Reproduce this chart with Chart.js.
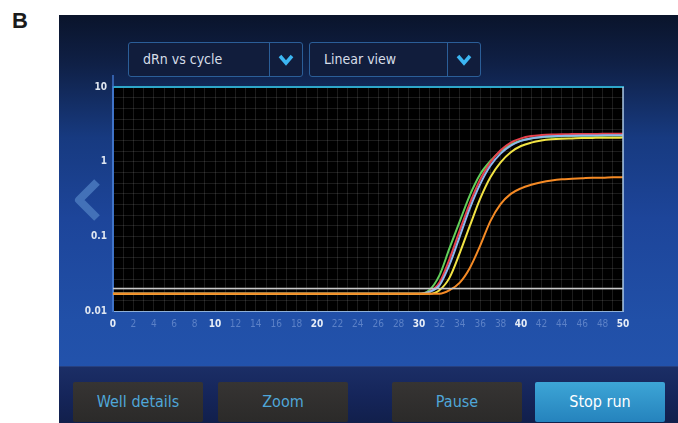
<!DOCTYPE html>
<html>
<head>
<meta charset="utf-8">
<script src="https://cdn.jsdelivr.net/npm/chart.js@4.4.1/dist/chart.umd.min.js"></script>
<style>
  html, body { margin:0; padding:0; width:678px; height:423px; overflow:hidden; background:#fff; }
  body { font-family:'Liberation Sans Narrow','DejaVu Sans Condensed',sans-serif; }
  #lbl { position:absolute; left:12px; top:8px; font:bold 22px 'Liberation Sans',Arial,sans-serif; color:#1b1b1b; }
  #screen { position:absolute; left:59px; top:15px; width:619px; height:408px;
    background:linear-gradient(180deg,#0a142b 0%,#0f2046 12%,#173a80 30%,#1d459a 50%,#2150a8 75%,#2455b0 100%); }
  .dd { position:absolute; top:27px; height:33px; border:1px solid #2b5e98; border-radius:3px;
    background:#111d3c; color:#d6dde8; font-size:14px; line-height:33px; box-sizing:content-box; }
  .dd span { position:absolute; left:14px; }
  .dd .sep { position:absolute; right:32px; top:0; width:1px; height:33px; background:#2b5e98; }
  .dd svg { position:absolute; right:8px; top:11px; }
  #arrow { position:absolute; left:12px; top:163px; }
  #bar { position:absolute; left:0; top:351px; width:619px; height:57px;
    background:linear-gradient(180deg,#1b2e66 0%,#15255a 50%,#111f4b 100%); border-top:1px solid #27407f; }
  .btn { position:absolute; top:15px; width:130px; height:40px; border-radius:2px; text-align:center;
    line-height:40px; font-size:16px; color:#4fa6d8;
    background:linear-gradient(180deg,#363433 0%,#2b2a29 100%); }
  .btn.stop { color:#fff; background:linear-gradient(180deg,#3da5d6 0%,#2583bd 100%); }
  #chart-wrap { position:absolute; left:0; top:0; width:678px; height:423px; pointer-events:none; }
</style>
</head>
<body>
<div id="lbl">B</div>
<div id="screen">
  <div class="dd" style="left:69px;width:173px;"><span>dRn vs cycle</span><div class="sep"></div>
    <svg width="16" height="12" viewBox="0 0 16 12"><polyline points="2,2 8,9 14,2" fill="none" stroke="#3cb6f2" stroke-width="3.5"/></svg></div>
  <div class="dd" style="left:250px;width:170px;"><span>Linear view</span><div class="sep"></div>
    <svg width="16" height="12" viewBox="0 0 16 12"><polyline points="2,2 8,9 14,2" fill="none" stroke="#3cb6f2" stroke-width="3.5"/></svg></div>
  <svg id="arrow" width="34" height="44" viewBox="0 0 34 44"><polyline points="26,4 8,22 26,40" fill="none" stroke="#4371b8" stroke-width="8" stroke-linejoin="round"/></svg>
  <div id="bar">
    <div class="btn" style="left:14px;">Well details</div>
    <div class="btn" style="left:159px;">Zoom</div>
    <div class="btn" style="left:333px;">Pause</div>
    <div class="btn stop" style="left:476px;">Stop run</div>
  </div>
</div>
<div id="chart-wrap"><canvas id="chart" width="678" height="423"></canvas></div>

<script>
// ciclos 0..50
const cycles = [0,1,2,3,4,5,6,7,8,9,10,11,12,13,14,15,16,17,18,19,20,21,22,23,24,25,
  26,27,28,29,30,31,32,33,34,35,36,37,38,39,40,41,42,43,44,45,46,47,48,49,50];

const green  = [0.017,0.017,0.017,0.017,0.017,0.017,0.017,0.017,0.017,0.017,0.017,0.017,0.017,0.017,0.017,0.017,
  0.017,0.017,0.017,0.017,0.017,0.017,0.017,0.017,0.017,0.017,0.017,0.017,0.017,0.017,0.017,
  0.019,0.03,0.07,0.16,0.36,0.68,1.02,1.38,1.7,1.92,2.05,2.12,2.16,2.19,2.21,2.22,2.23,2.23,2.24,2.24];
const red    = [0.017,0.017,0.017,0.017,0.017,0.017,0.017,0.017,0.017,0.017,0.017,0.017,0.017,0.017,0.017,0.017,
  0.017,0.017,0.017,0.017,0.017,0.017,0.017,0.017,0.017,0.017,0.017,0.017,0.017,0.017,0.017,
  0.018,0.024,0.05,0.12,0.28,0.58,0.98,1.42,1.8,2.05,2.2,2.27,2.31,2.33,2.34,2.35,2.35,2.36,2.36,2.36];
const blue   = [0.017,0.017,0.017,0.017,0.017,0.017,0.017,0.017,0.017,0.017,0.017,0.017,0.017,0.017,0.017,0.017,
  0.017,0.017,0.017,0.017,0.017,0.017,0.017,0.017,0.017,0.017,0.017,0.017,0.017,0.017,0.017,
  0.018,0.022,0.042,0.1,0.24,0.5,0.88,1.28,1.64,1.9,2.05,2.14,2.19,2.21,2.23,2.24,2.24,2.25,2.25,2.25];
const yellow = [0.017,0.017,0.017,0.017,0.017,0.017,0.017,0.017,0.017,0.017,0.017,0.017,0.017,0.017,0.017,0.017,
  0.017,0.017,0.017,0.017,0.017,0.017,0.017,0.017,0.017,0.017,0.017,0.017,0.017,0.017,0.017,
  0.017,0.019,0.028,0.06,0.14,0.32,0.62,0.98,1.34,1.62,1.8,1.92,1.99,2.03,2.05,2.07,2.08,2.09,2.09,2.1];
const orange = [0.017,0.017,0.017,0.017,0.017,0.017,0.017,0.017,0.017,0.017,0.017,0.017,0.017,0.017,0.017,0.017,
  0.017,0.017,0.017,0.017,0.017,0.017,0.017,0.017,0.017,0.017,0.017,0.017,0.017,0.017,0.017,
  0.017,0.017,0.019,0.024,0.038,0.075,0.16,0.27,0.37,0.44,0.49,0.53,0.56,0.58,0.59,0.6,0.61,0.61,0.62,0.62];
const threshold = 0.02;

const Y_TICKS = [0.01, 0.1, 1, 10];
const FONT = "'Liberation Sans Narrow','DejaVu Sans Condensed',sans-serif";

const pts = arr => arr.map((v, i) => ({x: cycles[i], y: v}));
const isTen = c => c.tick && c.tick.value % 10 === 0;

function serie(data, color, order) {
  return {data: pts(data), borderColor: color, borderWidth: 2, pointRadius: 0,
    cubicInterpolationMode: 'monotone', order};
}

const plotFrame = {
  id: 'plotFrame',
  beforeDraw(chart) {
    const {ctx, chartArea: a} = chart;
    ctx.save();
    ctx.fillStyle = '#000';
    ctx.fillRect(a.left, a.top, a.right - a.left, a.bottom - a.top);
    ctx.restore();
  },
  afterDraw(chart) {
    const {ctx, chartArea: a} = chart;
    ctx.save();
    ctx.strokeStyle = '#2ea6c9'; ctx.lineWidth = 2;
    ctx.beginPath(); ctx.moveTo(a.left, a.top); ctx.lineTo(a.right + 1, a.top); ctx.stroke();
    ctx.strokeStyle = '#a9c6e2'; ctx.lineWidth = 1.5;
    ctx.beginPath(); ctx.moveTo(a.right, a.top); ctx.lineTo(a.right, a.bottom); ctx.stroke();
    ctx.strokeStyle = '#3f73c8'; ctx.lineWidth = 1.5;
    ctx.beginPath(); ctx.moveTo(a.left, a.top - 12); ctx.lineTo(a.left, a.top); ctx.stroke();
    ctx.restore();
  }
};

new Chart(document.getElementById('chart'), {
  type: 'line',
  data: {datasets: [
    {data: [{x: cycles[0], y: threshold}, {x: cycles[cycles.length - 1], y: threshold}],
      borderColor: '#c9c9c9', borderWidth: 1.5, pointRadius: 0, order: -1},
    serie(orange, '#f58a25', 0),
    serie(yellow, '#f2e444', 1),
    serie(blue,   '#8db6ee', 2),
    serie(red,    '#e6404c', 3),
    serie(green,  '#62d05a', 4)
  ]},
  options: {
    responsive: false, animation: false,
    layout: {padding: {left: 83, top: 87, right: 55, bottom: 88}},
    plugins: {legend: {display: false}, tooltip: {enabled: false}},
    scales: {
      x: {type: 'linear', min: 0, max: 50,
        ticks: {stepSize: 1, autoSkip: false, maxRotation: 0, padding: 7,
          callback: v => v % 2 === 0 ? String(v) : '',
          color: c => isTen(c) ? '#e8eef7' : 'rgba(150,178,230,0.5)',
          font: c => isTen(c) ? {size: 10, weight: 'bold', family: FONT} : {size: 10, family: FONT}},
        grid: {color: 'rgba(255,255,255,0.11)', drawTicks: false},
        border: {color: '#8fb0d8', width: 1},
        afterFit: s => { s.height = 24; }
      },
      y: {type: 'logarithmic', min: 0.01, max: 10, position: 'left',
        afterBuildTicks: s => { s.ticks = Y_TICKS.map(v => ({value: v})); },
        ticks: {callback: v => String(v), color: '#dfe6f0', padding: 6,
          font: {size: 10, weight: 'bold', family: FONT}},
        grid: {display: false, drawTicks: false},
        border: {color: '#3f73c8', width: 2},
        afterFit: s => { s.width = 30; }
      },
      yg: {type: 'linear', min: 0, max: 21, position: 'right',
        ticks: {display: false, stepSize: 1},
        grid: {color: 'rgba(255,255,255,0.11)', drawTicks: false},
        border: {display: false},
        afterFit: s => { s.width = 0; }
      }
    }
  },
  plugins: [plotFrame]
});
</script>
</body>
</html>
